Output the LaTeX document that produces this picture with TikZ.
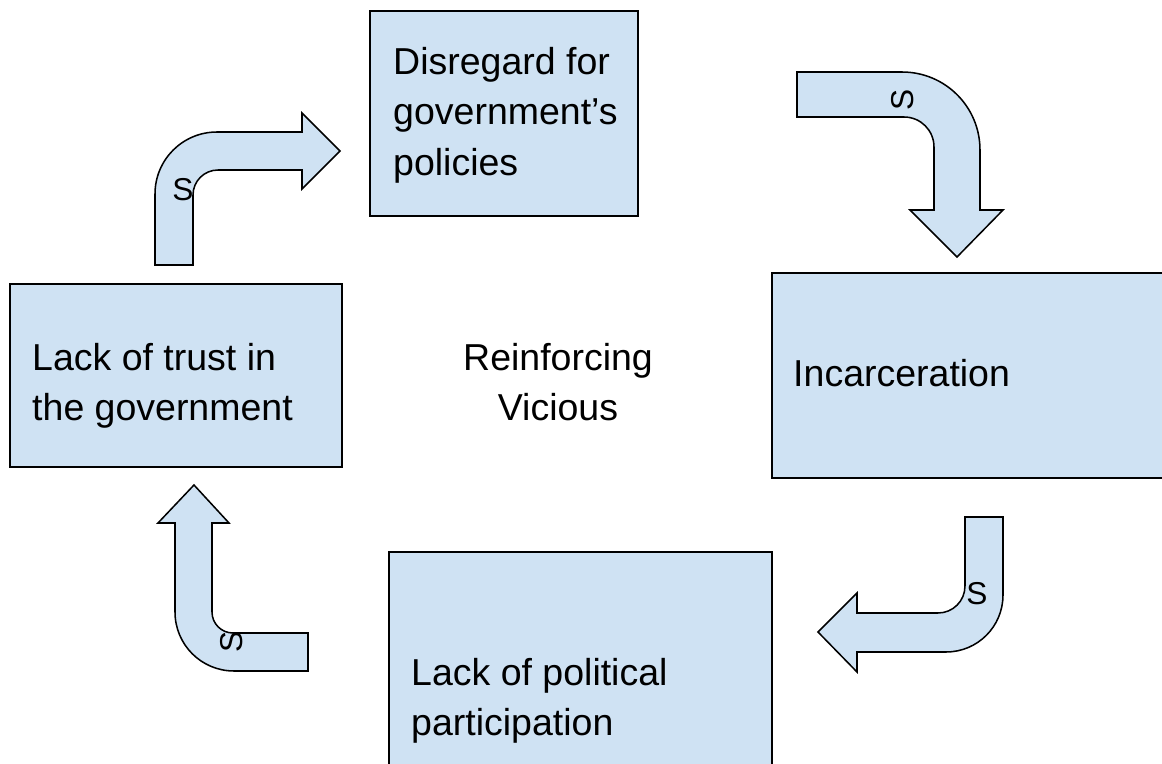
\documentclass[tikz,border=0pt]{standalone}
\usepackage{fontspec}
\setmainfont{Liberation Sans}
\usetikzlibrary{fit}
\definecolor{colFill}{HTML}{CFE2F3}
\definecolor{colLine}{HTML}{000000}
\def\boxfont{\fontsize{32pt}{43pt}\selectfont}
\def\sfont{\fontsize{27pt}{30pt}\selectfont}
\tikzset{
  box/.style={draw=colLine, fill=colFill, line width=1.5pt, inner sep=0pt},
  blockarrow/.style={draw=colLine, fill=colFill, line width=1.3pt, line join=miter},
  boxtext/.style={font=\boxfont, align=left, inner sep=0pt, anchor=north west},
  signlbl/.style={font=\sfont, inner sep=0pt}
}

\begin{document}
\begin{tikzpicture}[x=0.03cm, y=0.03cm]
\useasboundingbox (0,0) rectangle (1162,-764);

% ===================== BOXES =====================
\node[box, fit={(370,-11) (638,-216)}] (disregard) {};
\node[boxtext] (disregard-t) at (393,-47) {Disregard for\\government's\\policies};

\node[box, fit={(772,-273) (1175,-478)}] (incarc) {};
\node[boxtext] (incarc-t) at (793,-359) {Incarceration};

\node[box, fit={(389,-552) (772,-800)}] (particip) {};
\node[boxtext] (particip-t) at (411,-658) {Lack of political\\participation};

\node[box, fit={(10,-284) (342,-467)}] (trust) {};
\node[boxtext] (trust-t) at (32,-343) {Lack of trust in\\the government};

\node[font=\boxfont, align=center, inner sep=0pt, anchor=north] (loop) at (558,-343)
  {Reinforcing\\Vicious};

% ===================== BENT ARROWS =====================
% trust -> disregard
\draw[blockarrow] (155,-265) -- (155,-194) to[out=90,in=180] (217,-132) -- (302,-132)
  -- (302,-113) -- (340,-151) -- (302,-189) -- (302,-170) -- (218,-170)
  to[out=180,in=90] (193,-195) -- (193,-265) -- cycle;
\node[signlbl] (s1) at (183,-190) {S};

% disregard -> incarceration
\draw[blockarrow] (797,-72) -- (902,-72) to[out=0,in=90] (980,-150) -- (980,-210)
  -- (1003,-210) -- (957,-257) -- (910,-210) -- (934,-210) -- (934,-147)
  to[out=90,in=0] (904,-117) -- (797,-117) -- cycle;
\node[signlbl, rotate=90] (s2) at (903,-100) {S};

% incarceration -> participation
\draw[blockarrow] (965,-517) -- (1003,-517) -- (1003,-595) to[out=-90,in=0] (946,-652)
  -- (857,-652) -- (857,-672) -- (818,-632) -- (857,-593) -- (857,-613) -- (938,-613)
  to[out=0,in=-90] (965,-586) -- cycle;
\node[signlbl] (s3) at (977,-594) {S};

% participation -> trust
\draw[blockarrow] (308,-671) -- (234,-671) to[out=180,in=-90] (175,-612) -- (175,-523)
  -- (158,-523) -- (194,-485) -- (229,-523) -- (212,-523) -- (212,-612)
  to[out=-90,in=180] (233,-633) -- (308,-633) -- cycle;
\node[signlbl, rotate=90] (s4) at (232,-642) {S};
\end{tikzpicture}
\end{document}
